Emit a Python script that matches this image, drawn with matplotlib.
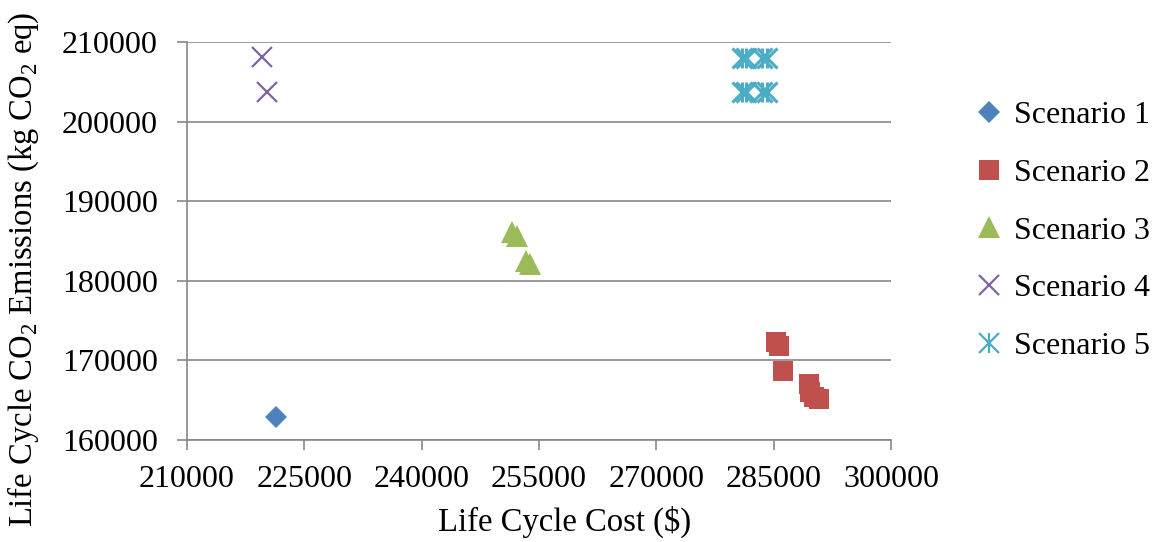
import matplotlib
matplotlib.use("Agg")
import matplotlib.pyplot as plt

plt.rcParams['font.family'] = ['Liberation Serif', 'DejaVu Serif']
plt.rcParams['mathtext.fontset'] = 'custom'
plt.rcParams['mathtext.rm'] = 'Liberation Serif'

# scenario data (life cycle cost $, CO2 kg eq)
s1_cost = [221400]
s1_co2 = [162900]

s2_cost = [285300, 285700, 286200, 289500, 289700, 290200, 290800]
s2_co2 = [172300, 171800, 168700, 167000, 166000, 165400, 165200]

s3_cost = [251600, 252200, 253400, 253900]
s3_co2 = [186100, 185600, 182500, 182100]

s4_cost = [219600, 220200]
s4_co2 = [208100, 203700]

s5_cost = [280900, 281500, 283500, 284200, 280900, 281500, 283500, 284200]
s5_co2 = [208000, 208000, 208000, 208000, 203700, 203700, 203700, 203700]

labels = ['Scenario 1', 'Scenario 2', 'Scenario 3', 'Scenario 4', 'Scenario 5']
x_ticks = [210000, 225000, 240000, 255000, 270000, 285000, 300000]
y_ticks = [160000, 170000, 180000, 190000, 200000, 210000]

FS = 23
GRAY = '#878787'

fig = plt.figure(figsize=(11.62, 5.42), dpi=100)
ax = fig.add_axes([0.1609, 0.1882, 0.6059, 0.7343])

ax.plot(s1_cost, s1_co2, 'D', color='#4F81BD', ms=11.2, mew=0, label=labels[0])
ax.plot(s2_cost, s2_co2, 's', color='#C0504D', ms=14.5, mew=0, label=labels[1])
ax.plot(s3_cost, s3_co2, '^', color='#9BBB59', ms=16, mew=0, label=labels[2])
ax.plot(s4_cost, s4_co2, 'x', color='#8064A2', ms=15, mew=1.6, label=labels[3])
# asterisk drawn as x + vertical bar, like Excel's star marker
ax.plot(s5_cost, s5_co2, 'x', color='#4BACC6', ms=14, mew=2.2)
ax.plot(s5_cost, s5_co2, '|', color='#4BACC6', ms=14, mew=2.2)
h5 = ax.plot([], [], 'x', color='#4BACC6', ms=14, mew=1.6)[0]
h5b = ax.plot([], [], '|', color='#4BACC6', ms=14, mew=1.6)[0]

ax.set_xlim(210000, 300000)
ax.set_ylim(160000, 210000)
ax.set_xticks(x_ticks)
ax.set_yticks(y_ticks)
ax.tick_params(labelsize=FS, length=7, color=GRAY, width=1.2)
ax.tick_params(axis='x', pad=11)
ax.tick_params(axis='y', pad=14)
ax.yaxis.grid(True, color=GRAY, linewidth=1.2)
ax.set_axisbelow(True)
for sp in ['top', 'right']:
    ax.spines[sp].set_visible(False)
for sp in ['left', 'bottom']:
    ax.spines[sp].set_color(GRAY)
    ax.spines[sp].set_linewidth(1.2)

ax.set_xlabel('Life Cycle Cost ($)', fontsize=23.5, va='center')
ax.xaxis.set_label_coords(0.537, -0.206)
ax.set_ylabel(r'Life Cycle CO$_2$ Emissions (kg CO$_2$ eq)', fontsize=23.5, va='center')
ax.yaxis.set_label_coords(-0.233, 0.4296)

handles, _ = ax.get_legend_handles_labels()
handles = handles[:4] + [(h5, h5b)]
fig.legend(handles, labels, loc='center left', bbox_to_anchor=(0.837, 0.574),
           frameon=False, fontsize=FS, labelspacing=0.89, handlelength=1.0,
           handletextpad=0.3, borderaxespad=0, borderpad=0)

fig.savefig('out.png', dpi=100)
